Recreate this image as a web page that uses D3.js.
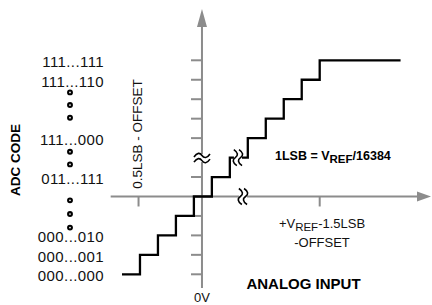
<!DOCTYPE html>
<html>
<head>
<meta charset="utf-8">
<script src="https://cdn.jsdelivr.net/npm/d3@7"></script>
<style>
body{margin:0;background:#fff;}
text{font-family:"Liberation Sans",Arial,Helvetica,sans-serif;}
</style>
</head>
<body>
<div id="chart"></div>
<script>
// transfer function: x in LSB steps, y in code level
var stairX=[0,1,2,3,4,5,6,7,8,9,10,11,15.5];
var stairY=[0,1,2,3,4,5,6,7,8,9,10,11,11];
// code labels on the left and the level each one sits at
var codeLabels=["000...000","000...001","000...010","011...111","111...000","111...110","111...111"];
var codeLevels=[0,1,2,5,7,10,11];
// the little dots between labels
var dotLevels=[8.05,8.7,9.35,6.3,5.65,3.8,3.1,2.4];
var yTicks=[0,1,2,3,5,7,8,9,10,11];
var xTicks=[0.92,11];
var zeroX=4.45, zeroLevel=4, breakLevel=6, stairBreakX=6.45, axisBreakX=6.73;

var width=432,height=305;
var grey="#8c8c8c";

var svg=d3.select("#chart").append("svg")
    .attr("width",width)
    .attr("height",height);

var x=d3.scaleLinear().domain([0,11]).range([122,319.7]);
var y=d3.scaleLinear().domain([0,11]).range([274.3,60.3]);

var ax=x(zeroX), ay=y(zeroLevel);

// axes lines
svg.append("line").attr("x1",ax).attr("x2",ax).attr("y1",y(-0.7)).attr("y2",24)
    .style("stroke",grey).style("stroke-width",2);
svg.append("path").attr("d","M"+ax+",9L"+(ax-5)+",27L"+(ax+5)+",27Z").style("fill",grey);
svg.append("line").attr("x1",x(-0.63)).attr("x2",420).attr("y1",ay).attr("y2",ay)
    .style("stroke",grey).style("stroke-width",2);
svg.append("path").attr("d","M431,"+ay+"L417,"+(ay-5)+"L417,"+(ay+5)+"Z").style("fill",grey);

svg.selectAll()
    .data(yTicks)
    .enter()
    .append("line")
    .attr("x1",ax-11).attr("x2",ax)
    .attr("y1",function(d){return y(d);})
    .attr("y2",function(d){return y(d);})
    .style("stroke",grey).style("stroke-width",2);

svg.selectAll()
    .data(xTicks)
    .enter()
    .append("line")
    .attr("x1",function(d){return x(d);})
    .attr("x2",function(d){return x(d);})
    .attr("y1",ay).attr("y2",ay+10)
    .style("stroke",grey).style("stroke-width",2);

// staircase
var line=d3.line()
    .x(function(d,i){return x(stairX[i]);})
    .y(function(d,i){return y(stairY[i]);})
    .curve(d3.curveStepAfter);
svg.append("path")
    .attr("d",line(stairX))
    .style("fill","none")
    .style("stroke","#000")
    .style("stroke-width",2.3);

// break marks
function wave(g,vertical){
    var p="M-8,1.5C-5,-3 -2,-3 0,0S5,3 8,-1.5";
    g.append("rect").attr("x",-8).attr("y",-4).attr("width",16).attr("height",8)
        .attr("transform",vertical?"rotate(90)":null).style("fill","#fff");
    [-2.6,2.6].forEach(function(o){
        g.append("path")
            .attr("d",p)
            .attr("transform",vertical?"translate("+o+",0) rotate(90)":"translate(0,"+o+")")
            .style("fill","none").style("stroke","#000").style("stroke-width",1.6);
    });
}
wave(svg.append("g").attr("transform","translate("+ax+","+(y(breakLevel)+0.5)+")"),false);
wave(svg.append("g").attr("transform","translate("+x(stairBreakX)+","+y(breakLevel)+")"),true);
wave(svg.append("g").attr("transform","translate("+x(axisBreakX)+","+ay+")"),true);

// code labels
svg.selectAll()
    .data(codeLabels)
    .enter()
    .append("text")
    .attr("x",104)
    .attr("y",function(d,i){return y(codeLevels[i])+7;})
    .attr("text-anchor","end")
    .style("font-size","15px")
    .style("letter-spacing","0.4px")
    .style("fill","#111")
    .text(function(d){return d;});

svg.selectAll()
    .data(dotLevels)
    .enter()
    .append("circle")
    .attr("cx",70)
    .attr("cy",function(d){return y(d);})
    .attr("r",1.9)
    .style("fill","#fff")
    .style("stroke","#000")
    .style("stroke-width",2.1);

svg.append("text")
    .attr("transform","translate(20,160) rotate(-90)")
    .attr("text-anchor","middle")
    .style("font-size","13.5px").style("font-weight","bold")
    .text("ADC CODE");

svg.append("text")
    .attr("transform","translate(141.5,188.7) rotate(-90)")
    .style("font-size","13.5px")
    .style("fill","#111")
    .text("0.5LSB - OFFSET");

var t1=svg.append("text")
    .attr("x",322).attr("y",228)
    .attr("text-anchor","middle")
    .style("font-size","13px").style("fill","#111");
t1.append("tspan").text("+V");
t1.append("tspan").attr("dy",3).style("font-size","11.5px").text("REF");
t1.append("tspan").attr("dy",-3).text("-1.5LSB");

svg.append("text")
    .attr("x",322).attr("y",247)
    .attr("text-anchor","middle")
    .style("font-size","13px").style("fill","#111")
    .text("-OFFSET");

var t2=svg.append("text")
    .attr("x",275).attr("y",159.5)
    .style("font-size","12.5px").style("font-weight","bold");
t2.append("tspan").text("1LSB = V");
t2.append("tspan").attr("dy",3).style("font-size","11.5px").text("REF");
t2.append("tspan").attr("dy",-3).text("/16384");

svg.append("text")
    .attr("x",303.5).attr("y",289)
    .attr("text-anchor","middle")
    .style("font-size","15px").style("font-weight","bold")
    .text("ANALOG INPUT");

svg.append("text")
    .attr("x",ax).attr("y",301.5)
    .attr("text-anchor","middle")
    .style("font-size","13px").style("fill","#111")
    .text("0V");
</script>
</body>
</html>
